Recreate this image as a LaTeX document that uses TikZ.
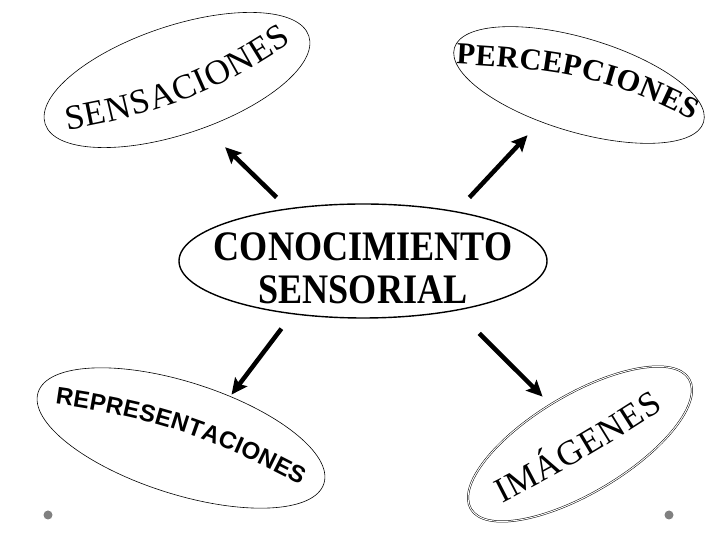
\documentclass[tikz,border=0pt]{standalone}
\usepackage{fontspec}
\setmainfont{Liberation Serif}
\setsansfont{Liberation Sans}
\usetikzlibrary{shapes.geometric, arrows.meta, decorations.text}

\begin{document}
\begin{tikzpicture}[
        x=1pt, y=1pt,
        bubble/.style={ellipse, draw, line width=0.6pt, inner sep=0pt},
        arrow/.style={-{Stealth[length=16pt, width=15pt, inset=3pt]}, line width=4.5pt},
        ontext/.style={decorate, decoration={text along path, text align={fit to path}, text={#1}}},
        dot/.style={circle, fill=gray, inner sep=0pt, minimum size=9pt}
    ]
        \useasboundingbox (0,0) rectangle (720,540);

        % Central concept
        \node[bubble, line width=1.4pt, minimum width=368pt, minimum height=114pt] (cen) at (363,279) {};
        \node[font=\bfseries\fontsize{42}{43}\selectfont, align=center, xscale=0.86] (cenlabel) at (363,272) {CONOCIMIENTO\\SENSORIAL};

        % Outer concepts, tilted
        \node[bubble, minimum width=278pt, minimum height=108pt, rotate=18.5] (sens) at (177,460) {};
        \node[bubble, minimum width=260pt, minimum height=94pt, rotate=-16.6] (perc) at (579,455) {};
        \node[bubble, minimum width=300pt, minimum height=112pt, rotate=-17.7] (rep) at (181,102) {};
        \node[bubble, double, double distance=1pt, line width=0.5pt, minimum width=254pt, minimum height=98pt, rotate=30.8] (img) at (580,96) {};

        % Curved labels
        \path[ontext={|\fontsize{35}{35}\selectfont|SENSACIONES}] (67,410) to[out=10, in=214] (292,498);
        \path[ontext={|\bfseries\fontsize{30.5}{31}\selectfont|PERCEPCIONES}] (456,476) to[out=-3, in=152] (692,420);
        \path[ontext={|\sffamily\bfseries\fontsize{24}{24}\selectfont|REPRESENTACIONES}] (55,136) to[out=-8, in=152] (301,55);
        \path[ontext={|\fontsize{35}{35}\selectfont|IMÁGENES}] (502,37) to[out=27, in=213] (664,131);

        % Arrows from the centre
        \draw[arrow, shorten <=15.6pt, shorten >=28pt] (cen.145) -- (sens.282);
        \draw[arrow, shorten <=18.8pt, shorten >=18.5pt] (cen.28.6) -- (perc.240.5);
        \draw[arrow, shorten <=18pt, shorten >=2pt] (cen.217) -- (rep.58.6);
        \draw[arrow, shorten <=32pt, shorten >=11pt] (cen.-28) -- (img.96.8);

        % Corner dots
        \node[dot] (dotl) at (48,25) {};
        \node[dot] (dotr) at (669,25) {};
    \end{tikzpicture}
\end{document}
